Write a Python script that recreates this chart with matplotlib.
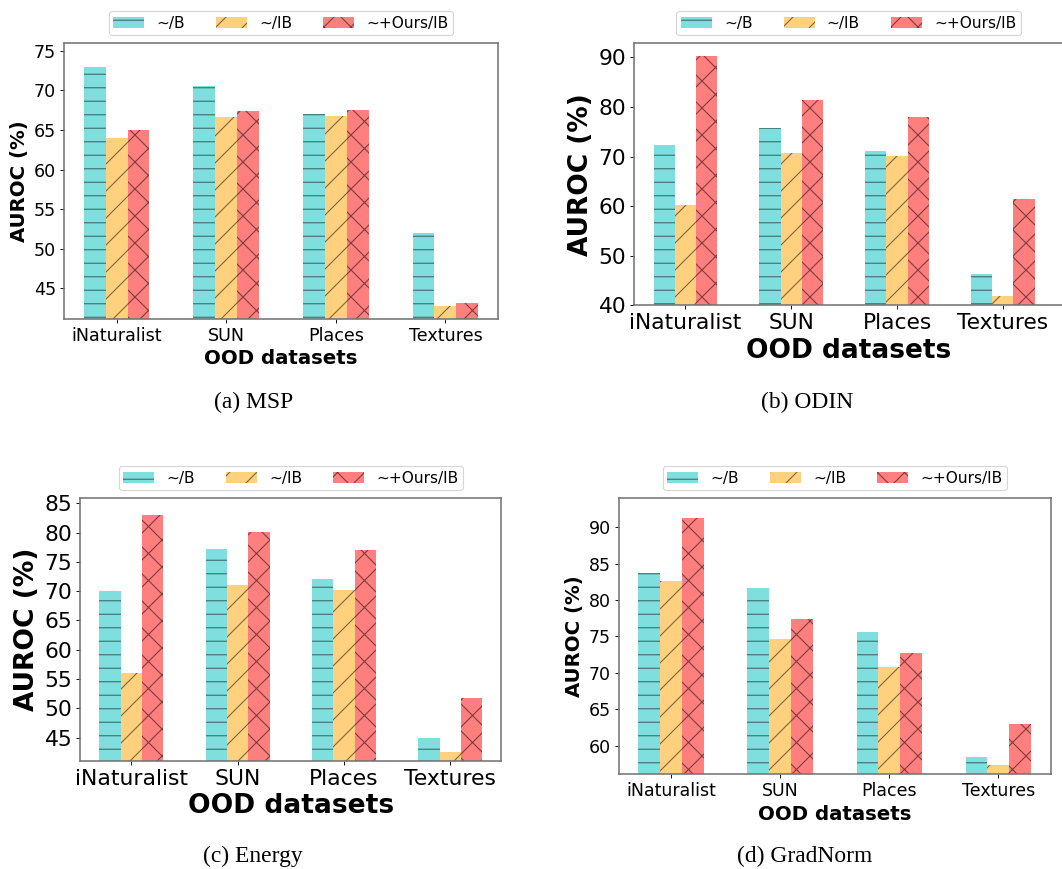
import matplotlib
matplotlib.use('Agg')
import matplotlib.pyplot as plt
import numpy as np

datasets = ['iNaturalist', 'SUN', 'Places', 'Textures']
methods = ['~/B', '~/IB', '~+Ours/IB']

msp_b = [73.0, 70.6, 67.0, 52.0]
msp_ib = [64.0, 66.6, 66.8, 42.8]
msp_ours = [65.0, 67.4, 67.5, 43.1]

odin_b = [72.3, 75.8, 71.1, 46.4]
odin_ib = [60.2, 70.7, 70.1, 41.9]
odin_ours = [90.3, 81.4, 78.0, 61.4]

energy_b = [70.0, 77.2, 72.1, 44.9]
energy_ib = [56.0, 71.0, 70.2, 42.5]
energy_ours = [83.0, 80.1, 77.0, 51.8]

gradnorm_b = [83.7, 81.6, 75.6, 58.4]
gradnorm_ib = [82.6, 74.6, 70.8, 57.3]
gradnorm_ours = [91.3, 77.4, 72.7, 63.0]

captions = ['(a) MSP', '(b) ODIN', '(c) Energy', '(d) GradNorm']

colors = ['c', 'orange', 'red']
hatches = ['-', '/', 'x']

W, H, DPI = 1062, 869, 81

plt.rcParams['hatch.color'] = (0, 0, 0, 0.5)


def px_rect(left, top, right, bottom):
    return [left / W, 1 - bottom / H, (right - left) / W, (bottom - top) / H]


def draw_panel(fig, rect, series, ylim, yticks, xlim, tick_fs, label_fs):
    ax = fig.add_axes(rect)
    x = np.arange(len(datasets))
    width = 0.2
    for i, vals in enumerate(series):
        ax.bar(x + (i - 1) * width, vals, width, color=colors[i], alpha=0.5,
               hatch=hatches[i], label=methods[i])
    ax.set_xticks(x)
    ax.set_xticklabels(datasets)
    ax.set_yticks(yticks)
    ax.set_ylim(*ylim)
    if xlim is not None:
        ax.set_xlim(*xlim)
    ax.tick_params(labelsize=tick_fs)
    ax.set_xlabel('OOD datasets', fontsize=label_fs, fontweight='bold', labelpad=4)
    ax.set_ylabel('AUROC (%)', fontsize=label_fs, fontweight='bold')
    for s in ax.spines.values():
        s.set_color('0.45')
        s.set_linewidth(1.4)
    ax.legend(loc='lower center', bbox_to_anchor=(0.5, 1.0), ncol=3,
              fontsize=13.7, borderpad=0.3)
    return ax


def main():
    fig = plt.figure(figsize=(W / DPI, H / DPI), dpi=DPI)

    draw_panel(fig, px_rect(64, 43, 498, 319), [msp_b, msp_ib, msp_ours],
               (41.1, 76.0), [45, 50, 55, 60, 65, 70, 75], None, 15.5, 17.5)
    draw_panel(fig, px_rect(634.3, 43, 1063, 305.3), [odin_b, odin_ib, odin_ours],
               (40, 92.9), [40, 50, 60, 70, 80, 90], (-0.483, 3.569), 19.3, 23.4)
    draw_panel(fig, px_rect(80.3, 498, 501.3, 760.7), [energy_b, energy_ib, energy_ours],
               (41.08, 85.9), [45, 50, 55, 60, 65, 70, 75, 80, 85], None, 19.4, 23.5)
    draw_panel(fig, px_rect(618.7, 498, 1050.7, 774.3), [gradnorm_b, gradnorm_ib, gradnorm_ours],
               (56.07, 94.0), [60, 65, 70, 75, 80, 85, 90], None, 15.4, 17.6)

    cap_pos = [(254, 402), (807.5, 402), (253, 856.7), (804.5, 856.7)]
    for (cx, cy), cap in zip(cap_pos, captions):
        fig.text(cx / W, 1 - cy / H, cap, ha='center', va='center',
                 family='Liberation Serif', fontsize=20.9)

    fig.savefig('out.png', dpi=DPI)


if __name__ == '__main__':
    main()
